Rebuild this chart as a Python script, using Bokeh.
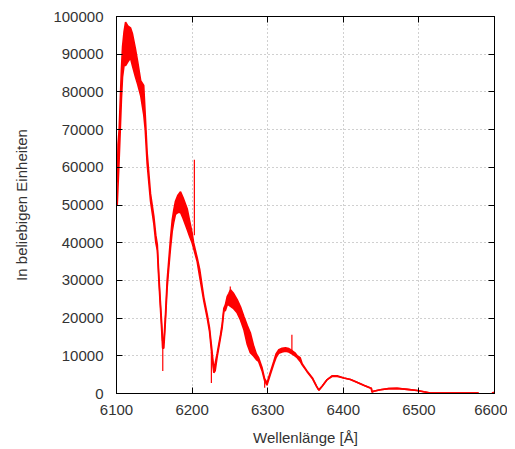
import math
from bokeh.plotting import figure
from bokeh.models import Range1d, LinearAxis, SingleIntervalTicker, BasicTickFormatter
from bokeh.embed import file_html
from bokeh.resources import INLINE

# Wavelength [Å] and lower / upper envelope of the noisy spectrum
wavelength = [6101.0, 6102.0, 6103.5, 6105.0, 6106.5, 6108.0, 6110.0, 6112.0, 6115.0, 6118.5,
              6121.0, 6125.0, 6128.0, 6132.0, 6136.0, 6138.0, 6140.5, 6145.0, 6149.4, 6152.0,
              6154.0, 6156.0, 6158.0, 6160.0, 6161.0, 6162.6, 6164.8, 6167.0, 6169.0, 6171.4,
              6173.7, 6175.8, 6178.0, 6181.0, 6184.7, 6188.0, 6193.5, 6197.0, 6200.0, 6202.0,
              6206.7, 6210.0, 6215.5, 6220.0, 6223.0, 6225.7, 6228.7, 6230.5, 6233.0, 6237.6,
              6239.8, 6242.0, 6244.0, 6246.4, 6248.5, 6250.8, 6255.0, 6259.6, 6264.0, 6268.4,
              6273.0, 6277.0, 6281.6, 6285.0, 6288.0, 6292.6, 6295.8, 6299.0, 6303.7, 6308.0,
              6311.0, 6314.7, 6319.0, 6323.5, 6328.0, 6332.0, 6336.0, 6339.0, 6343.0, 6345.6,
              6352.0, 6359.0, 6364.5, 6367.6, 6372.0, 6378.7, 6385.0, 6392.0, 6400.7, 6409.5,
              6418.0, 6427.0, 6435.0, 6437.0, 6438.0, 6440.0, 6449.0, 6460.0, 6471.0, 6484.5,
              6497.7, 6506.5, 6515.0, 6540.0, 6579.0]
intensity_low = [50000, 55000, 62000, 70000, 78000, 84000, 87000, 87000, 88000, 89000,
                 87000, 84000, 82000, 79000, 74000, 70000, 61000, 51000, 45000, 40000,
                 38000, 30000, 23000, 16000, 12000, 12000, 19500, 28000, 33000, 38500,
                 43000, 45500, 47500, 48000, 48000, 46500, 43500, 41500, 40000, 38500,
                 35000, 31000, 24500, 20000, 16500, 11000, 5500, 6000, 9500, 14800,
                 17500, 21800, 22000, 23500, 23500, 23100, 22500, 21400, 19500, 17000,
                 13000, 10800, 9900, 9000, 8500, 6000, 3500, 2200, 5200, 7800,
                 9500, 10700, 11000, 11200, 11000, 10500, 10000, 9500, 8500, 7600,
                 5800, 4000, 1900, 900, 1900, 3700, 4500, 4500, 4100, 3700,
                 3000, 2200, 1500, 1400, 350, 600, 1000, 1300, 1350, 1100,
                 800, 450, 150, 150, 150]
intensity_high = [56000, 66000, 70000, 78000, 86000, 92000, 96000, 98500, 97500, 97000,
                  95500, 91500, 88000, 83000, 81700, 74000, 64000, 53000, 47000, 42000,
                  39500, 31500, 24500, 18000, 14000, 13500, 21000, 30000, 35000, 41000,
                  46000, 48700, 51000, 52500, 53500, 52000, 49000, 45500, 42600, 40000,
                  36000, 33000, 25500, 21000, 17500, 12500, 6500, 8000, 10500, 15600,
                  18500, 22600, 23500, 25700, 26500, 27500, 26500, 24900, 23000, 20500,
                  18000, 16100, 12500, 10500, 9500, 6800, 4000, 2800, 5800, 8500,
                  10500, 11600, 12000, 12100, 11900, 11400, 10800, 10000, 9500, 7900,
                  6000, 4200, 2000, 900, 1900, 3700, 4700, 4700, 4100, 3700,
                  3000, 2200, 1500, 1400, 350, 600, 1000, 1300, 1350, 1100,
                  800, 450, 150, 150, 150]

# Single-sample spikes
spike_wavelength = [6161.2, 6203.0, 6225.5, 6250.5, 6296.0, 6332.0]
spike_base = [13000, 42000, 11000, 27000, 3600, 11300]
spike_tip = [6000, 62000, 2800, 28400, 1500, 15600]

# short separate piece at the end
tail_wavelength = [6596.5, 6599.8]
tail_intensity = [150, 300]

x_ticks_interval = 100
y_ticks_interval = 10000

FONT = "Liberation Sans"
TXT = "#333333"

p = figure(width=507, height=448, output_backend="svg", toolbar_location=None,
           x_range=Range1d(6100, 6600), y_range=Range1d(0, 100000),
           min_border_left=116, min_border_right=13, min_border_top=16, min_border_bottom=54,
           background_fill_color="white", border_fill_color="white")
p.outline_line_color = "black"
p.outline_line_width = 1

p.varea(x=wavelength, y1=intensity_low, y2=intensity_high, fill_color="#ff0000")
p.line(wavelength, intensity_low, line_color="#ff0000", line_width=1.6)
p.line(wavelength, intensity_high, line_color="#ff0000", line_width=1.6)
p.segment(x0=spike_wavelength, y0=spike_base, x1=spike_wavelength, y1=spike_tip,
          line_color="#ff0000", line_width=1.2)
p.line(tail_wavelength, tail_intensity, line_color="#ff0000", line_width=1.6)

xt = SingleIntervalTicker(interval=x_ticks_interval, num_minor_ticks=0)
yt = SingleIntervalTicker(interval=y_ticks_interval, num_minor_ticks=0)

for ax, t in ((p.xaxis[0], xt), (p.yaxis[0], yt)):
    ax.ticker = t
    ax.major_tick_in = 6
    ax.major_tick_out = 0
    ax.minor_tick_in = 0
    ax.minor_tick_out = 0
    ax.axis_line_color = "black"
    ax.major_tick_line_color = "black"
    ax.major_label_text_font = FONT
    ax.major_label_text_font_size = "15px"
    ax.major_label_text_color = TXT
    ax.axis_label_text_font = FONT
    ax.axis_label_text_font_size = "15px"
    ax.axis_label_text_font_style = "normal"
    ax.axis_label_text_color = TXT

p.yaxis[0].formatter = BasicTickFormatter(use_scientific=False)
p.xaxis[0].formatter = BasicTickFormatter(use_scientific=False)
p.xaxis[0].axis_label = "Wellenlänge [Å]"
p.yaxis[0].axis_label = "In beliebigen Einheiten"
p.yaxis[0].major_label_standoff = 13
p.xaxis[0].major_label_standoff = 11
p.yaxis[0].axis_label_standoff = 20
p.xaxis[0].axis_label_standoff = 11

# mirrored tick marks on top and right (labels not drawn)
for loc, t in (("right", SingleIntervalTicker(interval=y_ticks_interval, num_minor_ticks=0)),
               ("above", SingleIntervalTicker(interval=x_ticks_interval, num_minor_ticks=0))):
    ax = LinearAxis(ticker=t, major_tick_in=6, major_tick_out=0, minor_tick_in=0, minor_tick_out=0,
                    major_label_text_font_size="1px", major_label_text_color=None,
                    major_label_standoff=0,
                    axis_line_color="black", major_tick_line_color="black")
    p.add_layout(ax, loc)

p.xgrid.ticker = xt
p.ygrid.ticker = yt
for g in (p.xgrid[0], p.ygrid[0]):
    g.grid_line_color = "#a0a0a0"
    g.grid_line_dash = "1 3"
    g.grid_line_width = 1

open("out.html", "w").write(file_html(p, INLINE))
